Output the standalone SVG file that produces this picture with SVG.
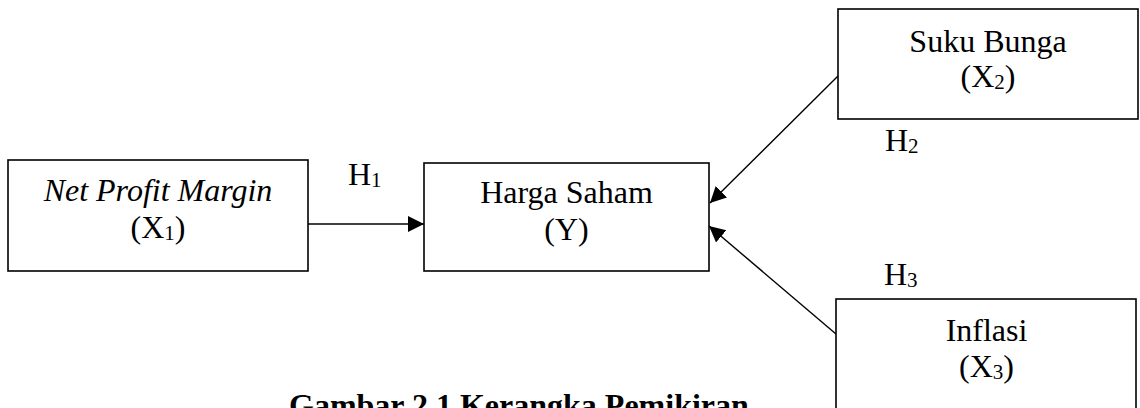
<svg xmlns="http://www.w3.org/2000/svg" width="1140" height="408" viewBox="0 0 1140 408">
<style>
.box{fill:#fff;stroke:#000;stroke-width:1.6}
.t{font-family:"Liberation Serif","Times New Roman",serif;font-size:32px;fill:#000;text-anchor:middle}
.l{font-family:"Liberation Serif","Times New Roman",serif;font-size:32px;fill:#000}
.sub{font-size:21px}
.con{stroke:#000;stroke-width:1.4;fill:none;marker-end:url(#ah)}
</style>
<defs>
<marker id="ah" markerUnits="userSpaceOnUse" markerWidth="17" markerHeight="17" refX="16" refY="8" orient="auto">
<path d="M0,0 L16,8 L0,16 z" fill="#000"/>
</marker>
</defs>
<rect width="1140" height="408" fill="#fff"/>
<g id="connectors">
<line class="con" x1="308" y1="224" x2="424" y2="224"/>
<line class="con" x1="838" y1="76" x2="710" y2="203"/>
<line class="con" x1="836" y1="334" x2="709" y2="226"/>
</g>
<g id="node-npm">
<rect class="box" x="8" y="160" width="300" height="111"/>
<text class="t" x="158" y="201" font-style="italic">Net Profit Margin</text>
<text class="t" x="158" y="238">(X<tspan class="sub" dy="2">1</tspan><tspan dy="-2">)</tspan></text>
</g>
<g id="node-harga">
<rect class="box" x="424" y="163" width="285" height="108"/>
<text class="t" x="566.5" y="203">Harga Saham</text>
<text class="t" x="566.5" y="240">(Y)</text>
</g>
<g id="node-suku">
<rect class="box" x="838" y="9" width="300" height="110"/>
<text class="t" x="988" y="52">Suku Bunga</text>
<text class="t" x="988" y="87">(X<tspan class="sub" dy="2">2</tspan><tspan dy="-2">)</tspan></text>
</g>
<g id="node-inflasi">
<rect class="box" x="836" y="299" width="300" height="130"/>
<text class="t" x="986.5" y="341">Inflasi</text>
<text class="t" x="986.5" y="377">(X<tspan class="sub" dy="2">3</tspan><tspan dy="-2">)</tspan></text>
</g>
<g id="labels">
<text class="l" x="348" y="185">H<tspan class="sub" dy="2">1</tspan></text>
<text class="l" x="885" y="151">H<tspan class="sub" dy="2">2</tspan></text>
<text class="l" x="884" y="285">H<tspan class="sub" dy="2">3</tspan></text>
<text class="l" x="289" y="416" font-weight="bold">Gambar 2.1 Kerangka Pemikiran</text>
</g>
</svg>
